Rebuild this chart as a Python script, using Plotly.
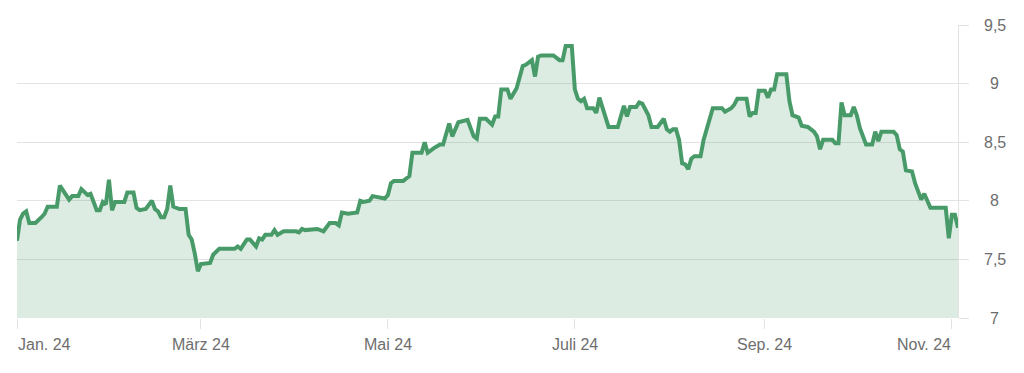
import plotly.graph_objects as go

dates = [
    "2024-01-01", "2024-01-02", "2024-01-03", "2024-01-04", "2024-01-05", "2024-01-07",
    "2024-01-09", "2024-01-10", "2024-01-11", "2024-01-14", "2024-01-15", "2024-01-17",
    "2024-01-18", "2024-01-19", "2024-01-21", "2024-01-22", "2024-01-24", "2024-01-25",
    "2024-01-27", "2024-01-28", "2024-01-29", "2024-01-30", "2024-01-31",
    "2024-02-01", "2024-02-02", "2024-02-05", "2024-02-06", "2024-02-08", "2024-02-09",
    "2024-02-10", "2024-02-12", "2024-02-14", "2024-02-15", "2024-02-16", "2024-02-17",
    "2024-02-18", "2024-02-19", "2024-02-20", "2024-02-21", "2024-02-23", "2024-02-25",
    "2024-02-26", "2024-02-27", "2024-02-28", "2024-02-29",
    "2024-03-01", "2024-03-03", "2024-03-04", "2024-03-05", "2024-03-07", "2024-03-12",
    "2024-03-13", "2024-03-14", "2024-03-16", "2024-03-17", "2024-03-19", "2024-03-20",
    "2024-03-21", "2024-03-22", "2024-03-24", "2024-03-25", "2024-03-26", "2024-03-28",
    "2024-04-01", "2024-04-02", "2024-04-03", "2024-04-04", "2024-04-08", "2024-04-10",
    "2024-04-12", "2024-04-14", "2024-04-15", "2024-04-16", "2024-04-18", "2024-04-21",
    "2024-04-22", "2024-04-23", "2024-04-25", "2024-04-26", "2024-04-29", "2024-04-30",
    "2024-05-01", "2024-05-02", "2024-05-03", "2024-05-06", "2024-05-07", "2024-05-08",
    "2024-05-09", "2024-05-12", "2024-05-13", "2024-05-14", "2024-05-16", "2024-05-18",
    "2024-05-19", "2024-05-21", "2024-05-22", "2024-05-24", "2024-05-27", "2024-05-29",
    "2024-05-30", "2024-05-31",
    "2024-06-02", "2024-06-04", "2024-06-05", "2024-06-06", "2024-06-07", "2024-06-09",
    "2024-06-10", "2024-06-12", "2024-06-14", "2024-06-15", "2024-06-17", "2024-06-18",
    "2024-06-19", "2024-06-20", "2024-06-24", "2024-06-26", "2024-06-27", "2024-06-28",
    "2024-06-30",
    "2024-07-01", "2024-07-02", "2024-07-03", "2024-07-04", "2024-07-05", "2024-07-07",
    "2024-07-08", "2024-07-09", "2024-07-11", "2024-07-12", "2024-07-15", "2024-07-17",
    "2024-07-18", "2024-07-19", "2024-07-21", "2024-07-22", "2024-07-23", "2024-07-25",
    "2024-07-26", "2024-07-28", "2024-07-30", "2024-07-31",
    "2024-08-01", "2024-08-02", "2024-08-03", "2024-08-04", "2024-08-05", "2024-08-06",
    "2024-08-07", "2024-08-08", "2024-08-09", "2024-08-11", "2024-08-12", "2024-08-13",
    "2024-08-15", "2024-08-18", "2024-08-19", "2024-08-21", "2024-08-22", "2024-08-23",
    "2024-08-26", "2024-08-27", "2024-08-28", "2024-08-29", "2024-08-30",
    "2024-09-01", "2024-09-02", "2024-09-03", "2024-09-04", "2024-09-05", "2024-09-08",
    "2024-09-09", "2024-09-10", "2024-09-12", "2024-09-13", "2024-09-15", "2024-09-17",
    "2024-09-18", "2024-09-19", "2024-09-20", "2024-09-23", "2024-09-24", "2024-09-25",
    "2024-09-26", "2024-09-27", "2024-09-29", "2024-09-30",
    "2024-10-01", "2024-10-02", "2024-10-04", "2024-10-06", "2024-10-07", "2024-10-08",
    "2024-10-09", "2024-10-13", "2024-10-14", "2024-10-15", "2024-10-16", "2024-10-17",
    "2024-10-19", "2024-10-20", "2024-10-22", "2024-10-23", "2024-10-25", "2024-10-30",
    "2024-10-31", "2024-11-01", "2024-11-02", "2024-11-03",
]

values = [
    7.66, 7.84, 7.89, 7.91, 7.81, 7.81,
    7.86, 7.89, 7.95, 7.95, 8.13, 8.05,
    8.01, 8.04, 8.04, 8.10, 8.05, 8.06,
    7.92, 7.92, 7.99, 7.97, 8.18,
    7.92, 7.99, 7.99, 8.07, 8.07, 7.94,
    7.92, 7.93, 8.00, 7.93, 7.91, 7.86,
    7.86, 7.93, 8.13, 7.95, 7.93, 7.93,
    7.71, 7.67, 7.55, 7.40,
    7.46, 7.47, 7.47, 7.54, 7.59, 7.59,
    7.61, 7.59, 7.67, 7.67, 7.61, 7.68,
    7.67, 7.71, 7.71, 7.75, 7.71, 7.74,
    7.74, 7.73, 7.76, 7.75, 7.76, 7.74,
    7.81, 7.81, 7.79, 7.90, 7.89, 7.90,
    8.00, 7.99, 8.00, 8.04, 8.03, 8.02,
    8.05, 8.15, 8.17, 8.17, 8.19, 8.21,
    8.41, 8.41, 8.50, 8.41, 8.45, 8.48,
    8.48, 8.66, 8.55, 8.67, 8.69, 8.55,
    8.53, 8.70,
    8.70, 8.65, 8.72, 8.72, 8.95, 8.95,
    8.87, 8.96, 9.15, 9.16, 9.20, 9.06,
    9.23, 9.24, 9.24, 9.20, 9.20, 9.32,
    9.32,
    8.95, 8.87, 8.85, 8.87, 8.79, 8.79,
    8.75, 8.88, 8.72, 8.63, 8.63, 8.81,
    8.72, 8.80, 8.80, 8.84, 8.83, 8.73,
    8.63, 8.63, 8.70, 8.61,
    8.59, 8.61, 8.61, 8.52, 8.32, 8.31,
    8.27, 8.36, 8.38, 8.38, 8.52, 8.61,
    8.79, 8.79, 8.76, 8.79, 8.82, 8.87,
    8.87, 8.72, 8.75, 8.75, 8.94,
    8.94, 8.88, 8.95, 8.95, 9.08, 9.08,
    8.85, 8.73, 8.71, 8.64, 8.63, 8.59,
    8.55, 8.44, 8.52, 8.52, 8.49, 8.49,
    8.84, 8.73, 8.73, 8.80,
    8.73, 8.62, 8.48, 8.48, 8.59, 8.51,
    8.59, 8.59, 8.56, 8.44, 8.42, 8.26,
    8.25, 8.15, 8.01, 8.06, 7.94, 7.94,
    7.68, 7.88, 7.88, 7.77,
]

x_tick_vals = ["2024-01-01", "2024-03-01", "2024-05-01", "2024-07-01", "2024-09-01", "2024-11-01"]
x_tick_text = ["Jan. 24", "März 24", "Mai 24", "Juli 24", "Sep. 24", "Nov. 24"]
y_tick_vals = [7, 7.5, 8, 8.5, 9, 9.5]
y_tick_text = ["7", "7,5", "8", "8,5", "9", "9,5"]

LINE = "rgb(72,155,105)"
FILL = "rgba(72,155,105,0.19)"
GRID = "#e3e3e3"
TEXT = "#6e6e6e"
FONT = "Liberation Sans, Arial, Helvetica, sans-serif"

fig = go.Figure()
fig.add_trace(go.Scatter(
    x=dates, y=values, mode="lines",
    line=dict(color=LINE, width=4),
    fill="tozeroy", fillcolor=FILL,
    hoverinfo="x+y", showlegend=False,
))

annotations = []
for i, (v, t) in enumerate(zip(x_tick_vals, x_tick_text)):
    anchor = "left" if i == 0 else ("right" if i == len(x_tick_vals) - 1 else "center")
    annotations.append(dict(
        x=v, xref="x", y=-0.089, yref="paper", text=t, showarrow=False,
        xanchor=anchor, yanchor="middle", font=dict(size=16, color=TEXT, family=FONT),
        borderpad=0,
    ))
for v, t in zip(y_tick_vals, y_tick_text):
    annotations.append(dict(
        x=1.0393, xref="paper", y=v, yref="y", text=t, showarrow=False,
        xanchor="center", yanchor="middle", font=dict(size=16, color=TEXT, family=FONT),
        borderpad=0,
    ))

fig.update_layout(
    width=1016, height=365,
    margin=dict(l=9, r=66, t=17, b=55),
    paper_bgcolor="white", plot_bgcolor="white",
    font=dict(family=FONT, size=16, color=TEXT),
    annotations=annotations,
    xaxis=dict(
        type="date", range=["2024-01-01", "2024-11-03"],
        tickvals=x_tick_vals, showticklabels=False,
        ticks="outside", ticklen=10, tickcolor=GRID, tickwidth=1,
        showgrid=False, zeroline=False, showline=False,
    ),
    yaxis=dict(
        side="right", range=[7, 9.5], tickvals=y_tick_vals, showticklabels=False,
        showgrid=True, gridcolor=GRID, gridwidth=1,
        ticks="outside", ticklen=10, tickcolor=GRID, tickwidth=1,
        showline=True, linecolor=GRID, linewidth=1, zeroline=False,
    ),
)

fig.write_html("out.html")
